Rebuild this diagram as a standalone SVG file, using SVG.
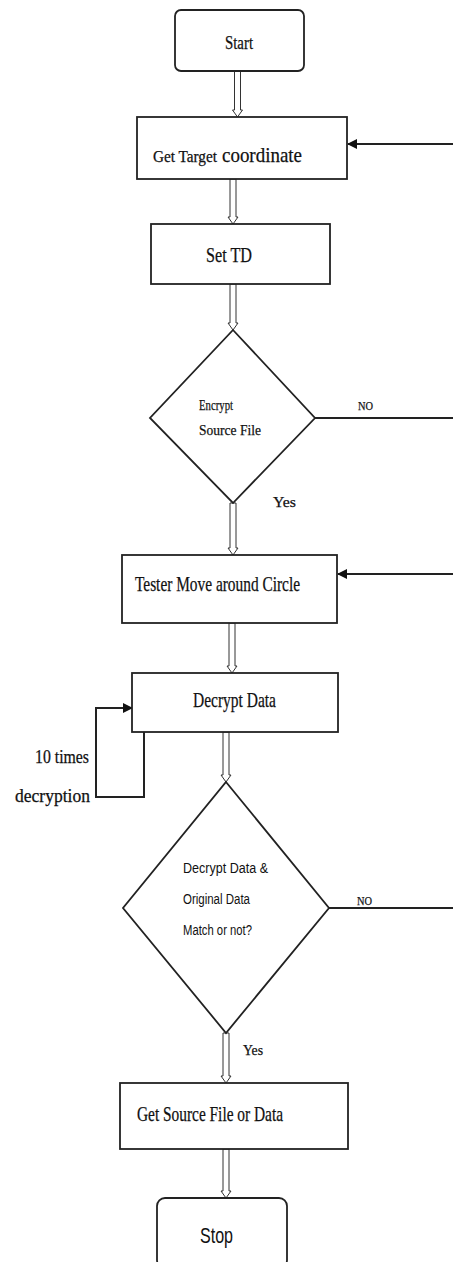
<svg xmlns="http://www.w3.org/2000/svg" width="453" height="1262" viewBox="0 0 453 1262">
<defs>
<marker id="fill" viewBox="0 0 10 10" refX="9" refY="5" markerWidth="10" markerHeight="10" markerUnits="userSpaceOnUse" orient="auto">
<path d="M0,0 L10,5 L0,10 Z" fill="#111"/>
</marker>
<style>
.box{fill:#fff;stroke:#222;stroke-width:1.8}
.hol{fill:#fff;stroke:#333;stroke-width:1}
.ln{fill:none;stroke:#222;stroke-width:2}
.s{font-family:"Liberation Serif","Times New Roman",serif;fill:#111;stroke:#111;stroke-width:0.25}
.n{font-family:"Liberation Sans","Noto Sans",sans-serif;fill:#111}
</style>
</defs>
<rect width="453" height="1262" fill="#fff"/>

<g id="connectors">
<path class="hol" d="M234.5,71 H240.5 V110 H242.5 L237.5,117 L232.5,110 H234.5 Z"/>
<path class="hol" d="M230,179 H236 V217 H238 L233,224 L228,217 H230 Z"/>
<path class="hol" d="M230,284 H236 V323 H238 L233,330 L228,323 H230 Z"/>
<path class="hol" d="M230,503 H236 V548 H238 L233,555 L228,548 H230 Z"/>
<path class="hol" d="M229,623 H235 V666 H237 L232,673 L227,666 H229 Z"/>
<path class="hol" d="M223,732 H229 V775 H231 L226,782 L221,775 H223 Z"/>
<path class="hol" d="M223,1033 H229 V1076 H231 L226,1083 L221,1076 H223 Z"/>
<path class="hol" d="M223,1149 H229 V1191 H231 L226,1198 L221,1191 H223 Z"/>
<path class="ln" d="M453,144 H348" marker-end="url(#fill)"/>
<path class="ln" d="M315,418 H453"/>
<path class="ln" d="M453,574 H338" marker-end="url(#fill)"/>
<path class="ln" d="M144,732 V797 H96 V708 H132" marker-end="url(#fill)"/>
<path class="ln" d="M329,908 H453"/>
<text class="s" x="358" y="410" font-size="13" textLength="15" lengthAdjust="spacingAndGlyphs">NO</text>
<text class="s" x="273" y="507" font-size="15" textLength="23" lengthAdjust="spacingAndGlyphs">Yes</text>
<text class="s" x="89" y="763" font-size="18" text-anchor="end" textLength="54" lengthAdjust="spacingAndGlyphs">10 times</text>
<text class="s" x="90" y="802" font-size="18" text-anchor="end" textLength="75" lengthAdjust="spacingAndGlyphs">decryption</text>
<text class="s" x="357" y="905" font-size="13" textLength="15" lengthAdjust="spacingAndGlyphs">NO</text>
<text class="s" x="243" y="1055" font-size="14" textLength="20" lengthAdjust="spacingAndGlyphs">Yes</text>
</g>

<g id="start">
<rect class="box" x="175" y="10" width="129" height="61" rx="6"/>
<text class="s" x="225" y="49" font-size="19" textLength="28" lengthAdjust="spacingAndGlyphs">Start</text>
</g>

<g id="get-target">
<rect class="box" x="137" y="117" width="210" height="62"/>
<text class="s" x="153" y="162" font-size="16" textLength="64" lengthAdjust="spacingAndGlyphs">Get Target</text>
<text class="s" x="222" y="162" font-size="22" textLength="80" lengthAdjust="spacingAndGlyphs">coordinate</text>
</g>

<g id="set-td">
<rect class="box" x="151" y="224" width="179" height="60"/>
<text class="s" x="206" y="262" font-size="20" textLength="46" lengthAdjust="spacingAndGlyphs">Set TD</text>
</g>

<g id="encrypt">
<path class="box" d="M233,330 L315,418 L233,503 L150,418 Z"/>
<text class="s" x="199" y="410" font-size="15" textLength="34" lengthAdjust="spacingAndGlyphs">Encrypt</text>
<text class="s" x="199" y="435" font-size="15" textLength="62" lengthAdjust="spacingAndGlyphs">Source File</text>
</g>

<g id="tester">
<rect class="box" x="122" y="555" width="215" height="68"/>
<text class="s" x="135" y="591" font-size="22" textLength="165" lengthAdjust="spacingAndGlyphs">Tester Move around Circle</text>
</g>

<g id="decrypt">
<rect class="box" x="132" y="673" width="206" height="59"/>
<text class="s" x="193" y="707" font-size="21" textLength="83" lengthAdjust="spacingAndGlyphs">Decrypt Data</text>
</g>

<g id="match">
<path class="box" d="M226,782 L329,908 L226,1033 L123,908 Z"/>
<text class="n" x="183" y="873" font-size="14" textLength="85" lengthAdjust="spacingAndGlyphs">Decrypt Data &amp;</text>
<text class="n" x="183" y="904" font-size="14" textLength="67" lengthAdjust="spacingAndGlyphs">Original Data</text>
<text class="n" x="183" y="935" font-size="14" textLength="69" lengthAdjust="spacingAndGlyphs">Match or not?</text>
</g>

<g id="get-source">
<rect class="box" x="120" y="1083" width="228" height="66"/>
<text class="s" x="137" y="1121" font-size="21" textLength="146" lengthAdjust="spacingAndGlyphs">Get Source File or Data</text>
</g>

<g id="stop">
<rect class="box" x="157" y="1198" width="130" height="70" rx="8"/>
<text class="n" x="200" y="1243" font-size="22" textLength="33" lengthAdjust="spacingAndGlyphs">Stop</text>
</g>
</svg>
